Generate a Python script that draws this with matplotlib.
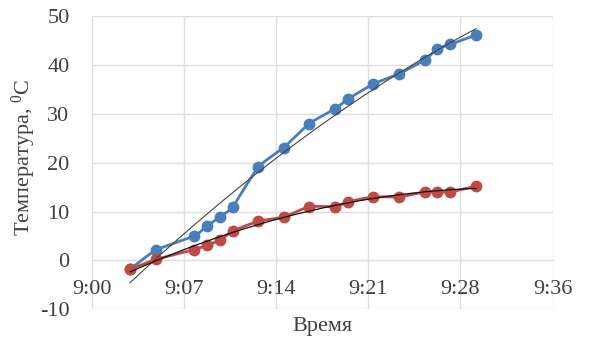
import numpy as np
import matplotlib
matplotlib.use("Agg")
import matplotlib.pyplot as plt

# minutes after 9:00
time_min = [3, 5, 8, 9, 10, 11, 13, 15, 17, 19, 20, 22, 24, 26, 27, 28, 30]
blue_temp = [-1.8, 2.1, 5.0, 7.0, 8.9, 10.9, 19.1, 23.1, 28.0, 31.0, 33.0, 36.1, 38.2, 41.0, 43.3, 44.2, 46.1]
red_temp = [-1.8, 0.2, 2.2, 3.1, 4.1, 6.0, 8.0, 8.9, 11.0, 11.0, 12.0, 13.0, 13.0, 14.0, 14.0, 14.0, 15.2]
x_ticks = [0, 7.2, 14.4, 21.6, 28.8, 36]
x_tick_labels = ['9:00', '9:07', '9:14', '9:21', '9:28', '9:36']
y_ticks = [-10, 0, 10, 20, 30, 40, 50]

plt.rcParams['font.family'] = ['Liberation Serif', 'DejaVu Serif']
plt.rcParams['mathtext.fontset'] = 'custom'
plt.rcParams['mathtext.rm'] = 'Liberation Serif'
plt.rcParams['mathtext.it'] = 'Liberation Serif'
plt.rcParams['axes.unicode_minus'] = False


def smooth(x, y, n=20, tension=0.5):
    x = np.asarray(x, float); y = np.asarray(y, float)
    px = np.concatenate([[x[0]], x, [x[-1]]])
    py = np.concatenate([[y[0]], y, [y[-1]]])
    xs, ys = [], []
    for i in range(1, len(px) - 2):
        p0 = np.array([px[i-1], py[i-1]]); p1 = np.array([px[i], py[i]])
        p2 = np.array([px[i+1], py[i+1]]); p3 = np.array([px[i+2], py[i+2]])
        m1 = tension * (p2 - p0) / 2
        m2 = tension * (p3 - p1) / 2
        t = np.linspace(0, 1, n, endpoint=False)[:, None]
        h00 = 2*t**3 - 3*t**2 + 1; h10 = t**3 - 2*t**2 + t
        h01 = -2*t**3 + 3*t**2; h11 = t**3 - t**2
        pts = h00*p1 + h10*m1 + h01*p2 + h11*m2
        xs.extend(pts[:, 0]); ys.extend(pts[:, 1])
    xs.append(x[-1]); ys.append(y[-1])
    return np.array(xs), np.array(ys)


fig = plt.figure(figsize=(5.95, 3.40), dpi=100)
ax = fig.add_axes([0.1541, 0.0903, 0.7748, 0.8626])

blue = '#4a7ebb'
red = '#be4b48'

for yv, col in ((blue_temp, blue), (red_temp, red)):
    sx, sy = smooth(time_min, yv)
    ax.plot(sx, sy, color=col, lw=2.0, zorder=3)
    ax.plot(time_min, yv, 'o', color=col, ms=7.5, zorder=4)

tx = np.linspace(time_min[0], time_min[-1], 200)
cb = np.polyfit(time_min, blue_temp, 2)
ax.plot(tx, np.polyval(cb, tx), color='#444444', lw=0.8, zorder=5)
cr = np.polyfit(time_min, red_temp, 2)
ax.plot(tx, np.polyval(cr, tx), color='#111111', lw=0.9, zorder=5)

ax.set_xlim(0, 36)
ax.set_ylim(-10, 50)
ax.set_xticks(x_ticks)
ax.set_xticklabels(x_tick_labels)
ax.set_yticks(y_ticks)
ax.grid(True, color='#dedede', lw=1.0)
ax.set_axisbelow(True)
for s in ('top', 'right', 'left'):
    ax.spines[s].set_visible(False)
ax.spines['bottom'].set_position(('data', 0))
ax.spines['bottom'].set_color('#d9d9d9')
ax.spines['bottom'].set_zorder(0.5)
ax.tick_params(axis='x', length=0, pad=14, labelsize=16, colors='#404040')
ax.tick_params(axis='y', length=0, pad=16, labelsize=16, colors='#404040')

fig.text(0.5 * (0.1541 + 0.9289), 1 - 327 / 340, 'Время', ha='center', va='center',
         fontsize=16, color='#404040')
fig.text(24 / 595, 1 - 157 / 340, 'Температура, $^{\\mathrm{0}}$C', ha='center', va='center',
         rotation=90, fontsize=16, color='#404040')

fig.savefig('out.png', dpi=100, facecolor='white')
